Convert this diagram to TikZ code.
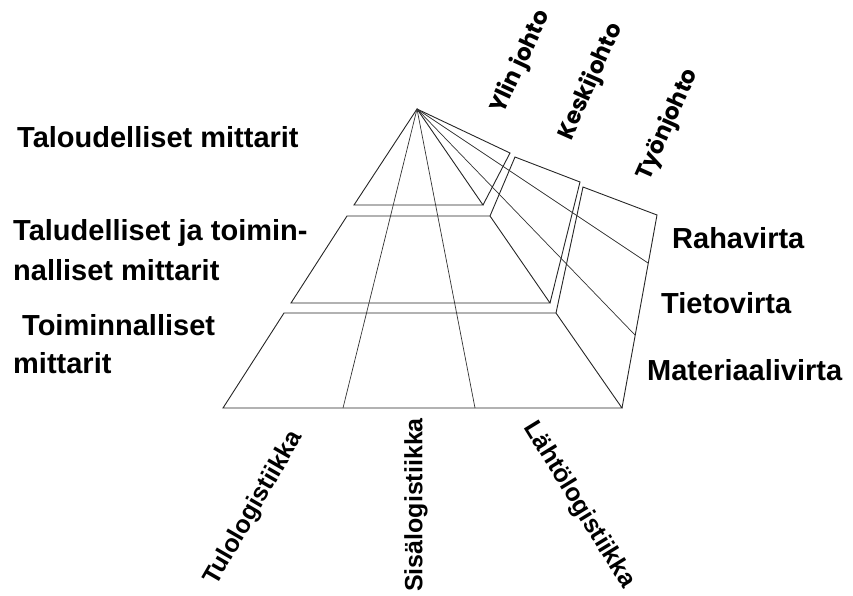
\documentclass[tikz,border=0pt]{standalone}
\usepackage{fontspec}
\setmainfont{Liberation Sans}
\newfontfamily\geofont{Poppins}
\begin{document}
\begin{tikzpicture}[x=1pt,y=1pt]
\tikzset{
  edge/.style={draw=black!85, line width=0.9pt, line join=miter},
  fan/.style={draw=black!80, line width=0.7pt},
  lbl/.style={font=\fontsize{29}{34}\selectfont\bfseries, inner sep=0pt, anchor=base west, text=black},
  blbl/.style={font=\fontsize{25}{30}\selectfont\bfseries, inner sep=0pt, text=black},
  tlbl/.style={font=\geofont\fontsize{23}{27}\selectfont\bfseries, inner sep=0pt, text=black}
}
\useasboundingbox (0,0) rectangle (853,-595);
% apex and slabs
\coordinate (A) at (417,-109);
\coordinate (L1) at (354,-205);
\coordinate (R1) at (483,-205);
\coordinate (S1) at (510,-153);
\coordinate (M1) at (347,-216);
\coordinate (M2) at (490,-216);
\coordinate (M3) at (550,-303);
\coordinate (M4) at (291,-303);
\coordinate (T2a) at (515,-157);
\coordinate (T2b) at (580,-182);
\coordinate (B1) at (284,-313);
\coordinate (B2) at (556,-313);
\coordinate (B3) at (622,-408);
\coordinate (B4) at (223,-408);
\coordinate (T3a) at (583,-187);
\coordinate (T3b) at (657,-215);
\coordinate (F1) at (343,-408);
\coordinate (F2) at (475,-408);
\coordinate (P1) at (648,-263);
\coordinate (P2) at (635,-335);
% top slab
\draw[edge] (L1) -- (A) -- (R1) -- cycle;
\draw[edge] (R1) -- (S1) -- (A);
% middle slab
\draw[edge] (M1) -- (M2) -- (M3) -- (M4) -- cycle;
\draw[edge] (M2) -- (T2a) -- (T2b) -- (M3);
% bottom slab
\draw[edge] (B1) -- (B2) -- (B3) -- (B4) -- cycle;
\draw[edge] (B2) -- (T3a) -- (T3b) -- (B3);
% sector and flow lines
\draw[fan] (A) -- (F1);
\draw[fan] (A) -- (F2);
\draw[fan] (A) -- (P1);
\draw[fan] (A) -- (P2);
% left labels
\node[lbl] (l1) at (17,-147) {Taloudelliset mittarit};
\node[lbl] (l2a) at (13,-240) {Taludelliset ja toimin-};
\node[lbl] (l2b) at (13,-280) {nalliset mittarit};
\node[lbl] (l3a) at (22,-335) {Toiminnalliset};
\node[lbl] (l3b) at (13,-373) {mittarit};
% right labels
\node[lbl] (r1) at (672,-248) {Rahavirta};
\node[lbl] (r2) at (661,-313) {Tietovirta};
\node[lbl] (r3) at (647,-380) {Materiaalivirta};
% top labels
\node[tlbl, rotate=65] (t1) at (521,-62) {Ylin johto};
\node[tlbl, rotate=66] (t2) at (591,-82) {Keskijohto};
\node[tlbl, rotate=66] (t3) at (668,-125) {Työnjohto};
% bottom labels
\node[blbl, rotate=60] (b1) at (254,-508) {Tulologistiikka};
\node[blbl, rotate=90] (b2) at (416,-505) {Sisälogistiikka};
\node[blbl, rotate=-58.5] (b3) at (579,-505) {Lähtölogistiikka};
\end{tikzpicture}
\end{document}
